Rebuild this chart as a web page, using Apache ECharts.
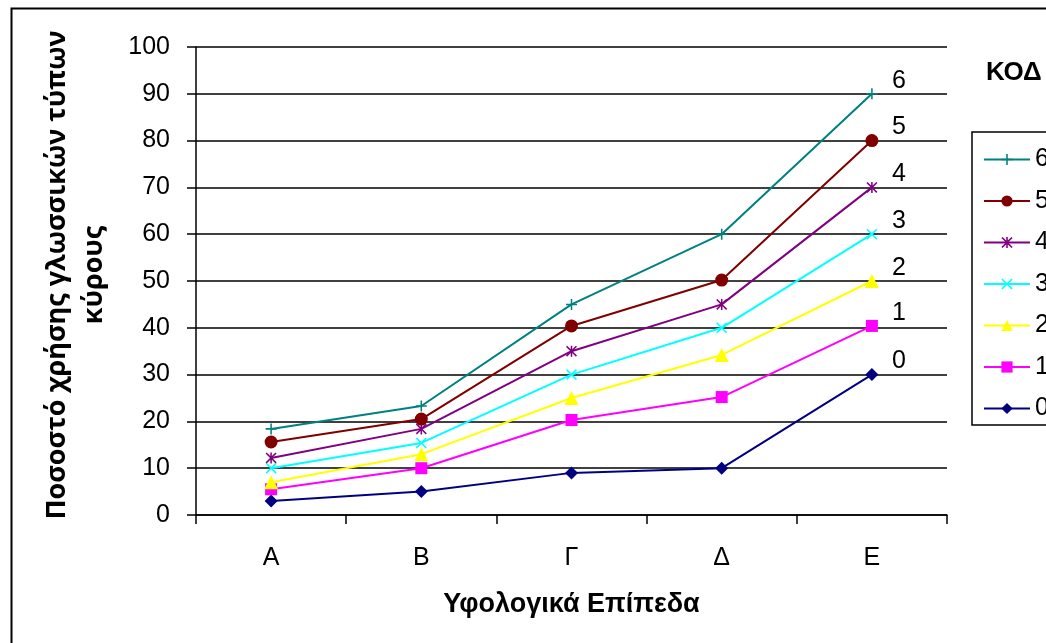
<!DOCTYPE html>
<html>
<head>
<meta charset="utf-8">
<script src="https://cdn.jsdelivr.net/npm/echarts@6/dist/echarts.min.js"></script>
<style>
html,body{margin:0;padding:0;background:#fff;}
#chart{width:1046px;height:643px;}
</style>
</head>
<body>
<div id="chart"></div>
<script>
const categories = ['Α', 'Β', 'Γ', 'Δ', 'Ε'];
const seriesNames = ['0', '1', '2', '3', '4', '5', '6'];
const values0 = [3, 5, 9, 10, 30];
const values1 = [5.5, 10, 20.3, 25.2, 40.4];
const values2 = [7, 13, 25, 34.2, 50];
const values3 = [10, 15.4, 30, 40, 60];
const values4 = [12.2, 18.4, 35, 45, 70];
const values5 = [15.6, 20.5, 40.4, 50.2, 80];
const values6 = [18.4, 23.3, 45, 60, 90];
const yTicks = [0, 10, 20, 30, 40, 50, 60, 70, 80, 90, 100];
const xTitle = 'Υφολογικά Επίπεδα';
const yTitle = 'Ποσοστό χρήσης γλωσσικών τύπων\nκύρους';
const legendTitle = 'ΚΟΔ';

const allValues = [values0, values1, values2, values3, values4, values5, values6];
const colors = ['#000080', '#FF00FF', '#FFFF00', '#00FFFF', '#800080', '#800000', '#008080'];
const plusPath = 'path://M4.3,0 L5.7,0 L5.7,4.3 L10,4.3 L10,5.7 L5.7,5.7 L5.7,10 L4.3,10 L4.3,5.7 L0,5.7 L0,4.3 L4.3,4.3 Z';
const xPath = 'path://M1,0 L5,4 L9,0 L10,1 L6,5 L10,9 L9,10 L5,6 L1,10 L0,9 L4,5 L0,1 Z';
const starPath = 'path://M1,0 L4.3,3.3 L4.3,0 L5.7,0 L5.7,3.3 L9,0 L10,1 L6,5 L10,9 L9,10 L5.7,6.7 L5.7,10 L4.3,10 L4.3,6.7 L1,10 L0,9 L4,5 L0,1 Z';
const symbols = ['diamond', 'rect', 'triangle', xPath, starPath, 'circle', plusPath];
const symbolSizes = [13, 12, 14, 11, 11, 13, 11];

const font = 'Liberation Sans, Arial, sans-serif';

const series = allValues.map((vals, i) => ({
  name: seriesNames[i],
  type: 'line',
  data: vals.map((v, j) => j === vals.length - 1 ? {
    value: v,
    label: {
      show: true, position: 'inside', offset: [27, -13],
      formatter: seriesNames[i], color: '#000', fontSize: 25, fontFamily: font
    }
  } : v),
  symbol: symbols[i],
  symbolSize: symbolSizes[i],
  showAllSymbol: true,
  color: colors[i],
  lineStyle: { color: colors[i], width: 2 },
  itemStyle: { color: colors[i] },
  emphasis: { disabled: true },
  animation: false,
  z: 3 + i
}));

const chart = echarts.init(document.getElementById('chart'), null, { renderer: 'canvas' });
chart.setOption({
  backgroundColor: '#fff',
  animation: false,
  grid: { left: 196, right: 99, top: 47, bottom: 128 },
  xAxis: {
    type: 'category',
    data: categories,
    boundaryGap: true,
    name: xTitle,
    nameLocation: 'middle',
    nameGap: 76,
    nameTextStyle: { fontSize: 27, fontWeight: 'bold', color: '#000', fontFamily: font },
    axisLine: { lineStyle: { color: '#000', width: 1.5 } },
    axisTick: { show: true, length: 9, lineStyle: { color: '#000', width: 1.5 } },
    axisLabel: { margin: 31, fontSize: 25, color: '#000', fontFamily: font }
  },
  yAxis: {
    type: 'value',
    min: 0, max: 100, interval: 10,
    axisLine: { show: true, lineStyle: { color: '#000', width: 1.5 } },
    axisTick: { show: true, length: 9, lineStyle: { color: '#000', width: 1.5 } },
    axisLabel: { margin: 26, fontSize: 25, color: '#000', fontFamily: font,
      formatter: v => yTicks.includes(v) ? String(v) : '' },
    splitLine: { show: true, lineStyle: { color: '#000', width: 1.5 } }
  },
  legend: {
    orient: 'vertical',
    left: 972, top: 132,
    data: ['6', '5', '4', '3', '2', '1', '0'],
    itemWidth: 46, itemHeight: 14,
    itemGap: 16.5,
    padding: [15, 60, 4, 11],
    borderColor: '#000', borderWidth: 1.5,
    textStyle: { fontSize: 25, color: '#000', fontFamily: font },
    selectedMode: false
  },
  graphic: [
    { type: 'rect', left: 9, top: 6, shape: { width: 1200, height: 800 },
      style: { fill: 'none', stroke: '#000', lineWidth: 2 }, silent: true },
    { type: 'text', x: 986, y: 73,
      style: { text: legendTitle, fontSize: 26, fontWeight: 'bold', fill: '#000', fontFamily: font,
        textAlign: 'left', textVerticalAlign: 'middle' } },
    { type: 'text', x: 76, y: 275, rotation: Math.PI / 2,
      style: { text: yTitle, fontSize: 27, fontWeight: 'bold', fill: '#000', fontFamily: 'Open Sans, Noto Sans, sans-serif',
        textAlign: 'center', textVerticalAlign: 'middle', lineHeight: 37 } }
  ],
  series: series
});
</script>
</body>
</html>
